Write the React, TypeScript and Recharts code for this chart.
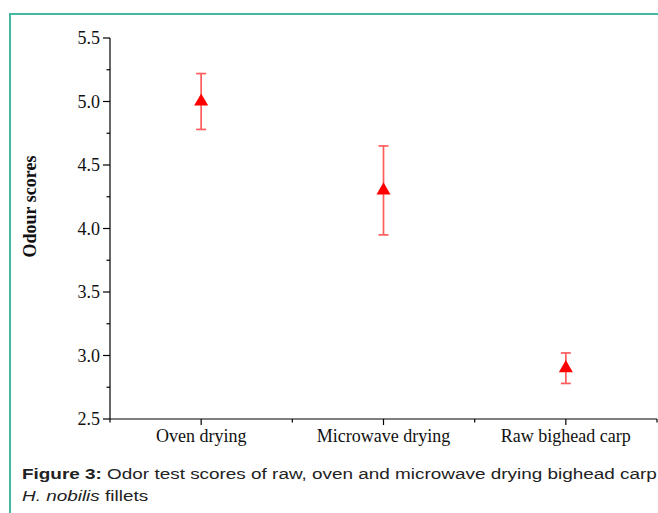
import React from "react";
import { ScatterChart, Scatter, XAxis, YAxis, ZAxis, ErrorBar } from "recharts";

const categories = ["Oven drying", "Microwave drying", "Raw bighead carp"];
const categoryPos = [1, 2, 3];
const odourMeans = [5.0, 4.3, 2.9];
const odourErrors = [0.22, 0.35, 0.12];

const yTicks = [2.5, 2.75, 3, 3.25, 3.5, 3.75, 4, 4.25, 4.5, 4.75, 5, 5.25, 5.5];
const xTicks = [0.5, 1, 1.5, 2, 2.5, 3, 3.5];

const SERIF = "'Liberation Serif', 'Times New Roman', serif";
const SANS = "'Liberation Sans', Arial, sans-serif";

const data = categories.map((name, i) => ({
  name,
  x: categoryPos[i],
  y: odourMeans[i],
  err: odourErrors[i],
}));

const isMajor = (v: number, step: number) =>
  Math.abs(v / step - Math.round(v / step)) < 1e-6;

function YTick(props: any) {
  const { x, y, payload } = props;
  const v = payload.value as number;
  const major = isMajor(v, 0.5);
  return (
    <g>
      <line x1={x - (major ? 7 : 3.5)} x2={x} y1={y} y2={y} stroke="#000" strokeWidth={1.2} />
      {major && (
        <text
          x={x - 10}
          y={y}
          dy={6}
          textAnchor="end"
          fill="#111"
          style={{ fontFamily: SERIF, fontSize: 18 }}
        >
          {v.toFixed(1)}
        </text>
      )}
    </g>
  );
}

function XTick(props: any) {
  const { x, y, payload } = props;
  const v = payload.value as number;
  const major = isMajor(v, 1);
  const idx = categoryPos.indexOf(v);
  return (
    <g>
      <line x1={x} x2={x} y1={y} y2={y + (major ? 6 : 3.5)} stroke="#000" strokeWidth={1.2} />
      {idx >= 0 && (
        <text
          x={x}
          y={y + 23}
          textAnchor="middle"
          fill="#111"
          style={{ fontFamily: SERIF, fontSize: 18 }}
        >
          {categories[idx]}
        </text>
      )}
    </g>
  );
}

export default function App() {
  return (
    <div
      style={{
        position: "absolute",
        left: 0,
        top: 0,
        width: 658,
        height: 513,
        background: "#fff",
        overflow: "hidden",
      }}
    >
      <div
        style={{
          position: "absolute",
          left: 9,
          top: 13,
          width: 700,
          height: 600,
          borderLeft: "2px solid #44b7a2",
          borderTop: "2px solid #44b7a2",
        }}
      />
      <div style={{ position: "absolute", left: 0, top: 0 }}>
        <ScatterChart width={658} height={460} margin={{ top: 38, right: 1, bottom: 0, left: 0 }}>
          <XAxis
            type="number"
            dataKey="x"
            domain={[0.5, 3.5]}
            ticks={xTicks}
            interval={0}
            height={41}
            tickSize={0}
            tickMargin={0}
            tickLine={false}
            tick={<XTick />}
            axisLine={{ stroke: "#000", strokeWidth: 1.2 }}
          />
          <YAxis
            type="number"
            dataKey="y"
            domain={[2.5, 5.5]}
            ticks={yTicks}
            interval={0}
            width={110}
            tickSize={0}
            tickMargin={0}
            tickLine={false}
            tick={<YTick />}
            axisLine={{ stroke: "#000", strokeWidth: 1.2 }}
            label={{
              content: (p: any) => {
                const vb = p.viewBox || { x: 0, y: 38, width: 110, height: 381 };
                const cx = vb.x + 30;
                const cy = vb.y + vb.height / 2 - 22;
                return (
                  <text
                    x={cx}
                    y={cy}
                    transform={`rotate(-90 ${cx} ${cy})`}
                    textAnchor="middle"
                    dominantBaseline="central"
                    fill="#111"
                    style={{ fontFamily: SERIF, fontSize: 18, fontWeight: "bold" }}
                  >
                    Odour scores
                  </text>
                );
              },
            }}
          />
          <ZAxis range={[85, 85]} />
          <Scatter data={data} dataKey="y" shape="triangle" fill="#ff0000" isAnimationActive={false}>
            <ErrorBar dataKey="err" direction="y" width={5} stroke="#ff5c5c" strokeWidth={1.7} />
          </Scatter>
        </ScatterChart>
      </div>
      <div
        style={{
          position: "absolute",
          left: 22,
          top: 463,
          fontFamily: SANS,
          fontSize: 15.5,
          lineHeight: "22px",
          color: "#222",
          whiteSpace: "nowrap",
          transform: "scaleX(1.22)",
          transformOrigin: "left top",
        }}
      >
        <div>
          <b>Figure 3:</b> Odor test scores of raw, oven and microwave drying bighead carp
        </div>
        <div>
          <i>H. nobilis</i> fillets
        </div>
      </div>
    </div>
  );
}
